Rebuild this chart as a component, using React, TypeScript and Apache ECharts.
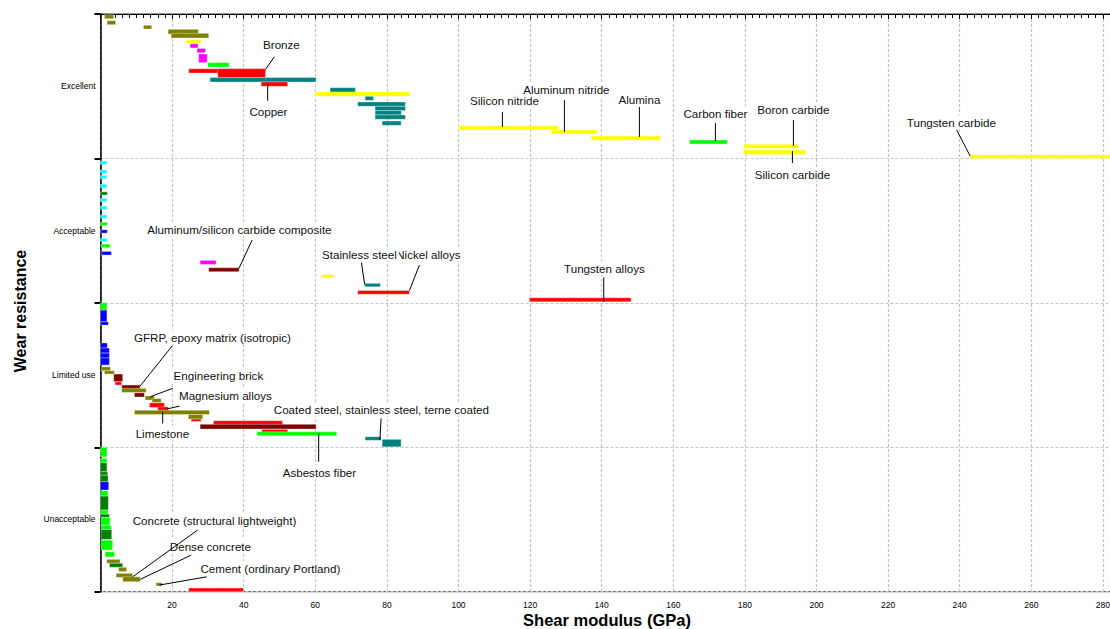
import React, { useEffect, useRef } from "react";
import * as echarts from "echarts";

const bands = ["Excellent", "Acceptable", "Limited use", "Unacceptable"];
const xTicksInterval = 20;

const familyColors: Record<string, string> = {
  natural: "#808000",
  ceramic: "#ffff00",
  composite: "#ff00ff",
  fiber: "#00ff00",
  metal: "#ff0000",
  steel: "#008080",
  elastomer: "#00ffff",
  foam: "#008000",
  polymer: "#0000ff",
  ferrous: "#800000",
};

// [family, G min, G max, position-in-band start, position-in-band end]
const excellentBars: [string, number, number, number, number][] = [
  ["natural", 1.09, 3.69, 0.005, 0.033],
  ["natural", 1.84, 4.25, 0.046, 0.074],
  ["natural", 11.98, 14.3, 0.078, 0.104],
  ["natural", 18.88, 27.35, 0.106, 0.139],
  ["natural", 19.72, 30.22, 0.134, 0.166],
  ["ceramic", 23.8, 28.18, 0.178, 0.203],
  ["composite", 25.03, 27.26, 0.206, 0.235],
  ["composite", 26.98, 29.3, 0.238, 0.268],
  ["composite", 27.43, 29.78, 0.277, 0.337],
  ["fiber", 29.94, 35.92, 0.337, 0.367],
  ["metal", 24.64, 46.06, 0.379, 0.409],
  ["metal", 32.74, 46.06, 0.379, 0.441],
  ["steel", 30.61, 60.22, 0.44, 0.471],
  ["metal", 44.86, 52.29, 0.471, 0.501],
  ["steel", 64.13, 71.2, 0.51, 0.542],
  ["ceramic", 59.94, 86.37, 0.54, 0.57],
  ["steel", 73.91, 76.23, 0.57, 0.598],
  ["steel", 71.84, 85.17, 0.609, 0.639],
  ["steel", 76.7, 85.17, 0.639, 0.669],
  ["steel", 76.7, 84.05, 0.669, 0.699],
  ["steel", 76.7, 85.17, 0.699, 0.729],
  ["steel", 78.66, 83.97, 0.741, 0.771],
  ["ceramic", 99.97, 127.9, 0.774, 0.803],
  ["ceramic", 125.95, 138.8, 0.803, 0.831],
  ["ceramic", 137.04, 156.4, 0.845, 0.875],
  ["fiber", 164.5, 175.11, 0.873, 0.9],
  ["ceramic", 179.58, 195.03, 0.902, 0.93],
  ["ceramic", 179.58, 197.09, 0.942, 0.972],
  ["ceramic", 242.9, 283.0, 0.975, 1.0],
];

const acceptableBars: [string, number, number, number, number][] = [
  ["elastomer", 0, 1.8, 0.018, 0.041],
  ["elastomer", 0, 1.8, 0.08, 0.103],
  ["elastomer", 0, 1.8, 0.117, 0.14],
  ["elastomer", 0, 1.8, 0.179, 0.203],
  ["foam", 0, 1.9, 0.231, 0.254],
  ["elastomer", 0, 1.8, 0.276, 0.299],
  ["elastomer", 0, 1.8, 0.33, 0.352],
  ["elastomer", 0, 1.8, 0.392, 0.415],
  ["fiber", 0, 1.9, 0.442, 0.465],
  ["polymer", 0, 1.9, 0.494, 0.517],
  ["elastomer", 0, 1.8, 0.553, 0.577],
  ["fiber", 0.17, 2.68, 0.593, 0.618],
  ["polymer", 0.17, 3.04, 0.644, 0.669],
  ["composite", 27.82, 32.29, 0.706, 0.734],
  ["ferrous", 30.22, 38.72, 0.757, 0.784],
  ["ceramic", 61.7, 65.25, 0.805, 0.828],
  ["steel", 73.8, 78.18, 0.865, 0.889],
  ["metal", 71.84, 86.28, 0.914, 0.941],
  ["metal", 119.8, 148.21, 0.965, 0.993],
];

const limitedBars: [string, number, number, number, number][] = [
  ["fiber", 0, 1.8, 0.0, 0.05],
  ["polymer", 0, 1.8, 0.05, 0.131],
  ["polymer", 0, 2.2, 0.131, 0.154],
  ["polymer", 0, 1.9, 0.278, 0.313],
  ["polymer", 0, 2.49, 0.313, 0.348],
  ["polymer", 0, 2.49, 0.348, 0.382],
  ["polymer", 0, 2.49, 0.382, 0.431],
  ["natural", 0.25, 2.77, 0.443, 0.47],
  ["natural", 1.09, 3.88, 0.47, 0.493],
  ["ferrous", 3.69, 6.2, 0.493, 0.546],
  ["metal", 4.08, 5.92, 0.546, 0.569],
  ["ferrous", 5.92, 11.06, 0.569, 0.597],
  ["natural", 5.92, 12.74, 0.592, 0.62],
  ["ferrous", 9.47, 12.26, 0.623, 0.652],
  ["natural", 12.46, 15.06, 0.645, 0.673],
  ["natural", 14.41, 16.93, 0.663, 0.689],
  ["metal", 13.66, 17.85, 0.692, 0.724],
  ["metal", 15.98, 18.97, 0.72, 0.748],
  ["natural", 9.47, 30.42, 0.743, 0.773],
  ["natural", 24.55, 28.55, 0.773, 0.805],
  ["metal", 25.31, 28.1, 0.805, 0.821],
  ["metal", 31.54, 50.89, 0.816, 0.846],
  ["ferrous", 27.82, 60.22, 0.841, 0.874],
  ["metal", 45.03, 52.29, 0.876, 0.903],
  ["fiber", 43.69, 65.98, 0.893, 0.92],
  ["steel", 73.91, 78.38, 0.927, 0.952],
  ["steel", 78.66, 83.97, 0.945, 0.997],
];

const unacceptableBars: [string, number, number, number, number][] = [
  ["fiber", 0, 1.8, 0.0, 0.066],
  ["fiber", 0, 1.8, 0.077, 0.107],
  ["foam", 0, 1.8, 0.107, 0.17],
  ["foam", 0, 2.0, 0.17, 0.193],
  ["foam", 0, 2.1, 0.193, 0.239],
  ["polymer", 0, 2.29, 0.239, 0.296],
  ["fiber", 0, 2.1, 0.301, 0.338],
  ["foam", 0, 2.21, 0.338, 0.435],
  ["fiber", 0, 2.1, 0.435, 0.463],
  ["foam", 0, 2.49, 0.463, 0.486],
  ["fiber", 0.17, 2.68, 0.486, 0.54],
  ["fiber", 0.17, 2.96, 0.54, 0.569],
  ["foam", 0.17, 3.13, 0.569, 0.638],
  ["fiber", 0.17, 3.41, 0.643, 0.712],
  ["fiber", 1.28, 3.88, 0.724, 0.759],
  ["natural", 1.73, 5.47, 0.776, 0.803],
  ["foam", 2.49, 6.2, 0.803, 0.831],
  ["natural", 5.08, 7.32, 0.831, 0.861],
  ["natural", 4.36, 8.99, 0.873, 0.901],
  ["natural", 6.2, 11.06, 0.897, 0.931],
  ["natural", 15.53, 17.21, 0.938, 0.961],
  ["metal", 24.64, 39.92, 0.975, 1.0],
];

// [label, anchor G, anchor band pos, leader end G, leader end band pos, text G, text band pos]
const annotations: [string, number, number, number, number, number, number][] = [
  ["Bronze", 46.06, 0.384, 48.58, 0.296, 50.53, 0.208],
  ["Copper", 46.7, 0.476, 46.7, 0.6, 46.9, 0.672],
  ["Silicon nitride", 112.26, 0.783, 112.26, 0.679, 112.82, 0.602],
  ["Aluminum nitride", 129.58, 0.817, 129.58, 0.596, 130.14, 0.526],
  ["Alumina", 150.53, 0.852, 150.53, 0.644, 150.53, 0.589],
  ["Carbon fiber", 171.76, 0.88, 171.76, 0.755, 171.76, 0.686],
  ["Boron carbide", 193.55, 0.914, 193.55, 0.734, 193.55, 0.658],
  ["Silicon carbide", 193.27, 0.949, 193.27, 1.032, 193.27, 1.108],
  ["Tungsten carbide", 242.91, 0.983, 239.16, 0.803, 237.68, 0.748],
  ["Aluminum/silicon carbide composite", 38.72, 1.759, 42.35, 1.565, 38.8, 1.489],
  ["Nickel alloys", 86.28, 1.916, 89.08, 1.738, 91.6, 1.662],
  ["Stainless steel", 73.8, 1.873, 72.88, 1.722, 72.33, 1.662],
  ["Tungsten alloys", 140.57, 1.992, 140.57, 1.823, 140.76, 1.759],
  ["GFRP, epoxy matrix (isotropic)", 11.06, 2.576, 20.0, 2.299, 31.26, 2.237],
  ["Engineering brick", 13.94, 2.65, 20.17, 2.592, 32.93, 2.5],
  ["Magnesium alloys", 18.49, 2.735, 22.04, 2.715, 34.89, 2.639],
  ["Limestone", 17.37, 2.754, 17.37, 2.835, 17.29, 2.902],
  ["Coated steel, stainless steel, terne coated", 78.04, 2.95, 78.38, 2.8, 78.46, 2.735],
  ["Asbestos fiber", 60.95, 2.904, 60.95, 3.1, 61.15, 3.172],
  ["Dense concrete", 11.06, 3.915, 25.31, 3.747, 30.7, 3.684],
  ["Concrete (structural lightweight)", 8.99, 3.897, 27.15, 3.573, 31.84, 3.504],
  ["Cement (ordinary Portland)", 16.45, 3.954, 29.66, 3.897, 47.46, 3.837],
];

const LABEL_FONT = '11.6px "Liberation Sans", Arial, sans-serif';
const AXIS_FONT = '"Liberation Sans", Arial, sans-serif';

export default function App() {
  const ref = useRef<HTMLDivElement>(null);

  useEffect(() => {
    if (!ref.current) return;
    const chart = echarts.init(ref.current, undefined, { renderer: "svg" });

    const bandSets = [excellentBars, acceptableBars, limitedBars, unacceptableBars];
    const rects: { v: number[]; color: string }[] = [];
    bandSets.forEach((set, bi) => {
      set.forEach((b) => {
        rects.push({ v: [b[1], b[2], bi + b[3], bi + b[4]], color: familyColors[b[0]] });
      });
    });

    const option: any = {
      animation: false,
      backgroundColor: "#fff",
      grid: {
        left: 100.5,
        top: 14,
        width: 285 * 3.58,
        height: 577.7,
        outerBoundsMode: "none",
        containLabel: false,
        show: true,
        borderColor: "#333",
        borderWidth: 1,
        backgroundColor: "transparent",
      },
      graphic: [
        {
          type: "text",
          x: 20,
          y: 311,
          rotation: Math.PI / 2,
          style: {
            text: "Wear resistance",
            font: 'bold 16px "Liberation Sans", Arial, sans-serif',
            fill: "#000",
            align: "center",
            verticalAlign: "middle",
          },
        },
        {
          type: "text",
          x: 607,
          y: 620,
          style: {
            text: "Shear modulus (GPa)",
            font: 'bold 16.5px "Liberation Sans", Arial, sans-serif',
            fill: "#000",
            align: "center",
            verticalAlign: "middle",
          },
        },
      ],
      xAxis: {
        type: "value",
        min: 0,
        max: 285,
        interval: xTicksInterval,
        axisLine: { lineStyle: { color: "#000", width: 1 } },
        axisTick: { show: true, length: 5, lineStyle: { color: "#000" } },
        minorTick: { show: true, splitNumber: 10, length: 4, lineStyle: { color: "#000" } },
        axisLabel: { showMinLabel: false, fontSize: 8.5, color: "#000", margin: 9, fontFamily: AXIS_FONT },
        splitLine: { show: true, lineStyle: { color: "#c4c4c4", type: [3, 2], width: 1.2 } },
      },
      yAxis: [
        {
          type: "category",
          inverse: true,
          data: bands,
          boundaryGap: true,
          position: "left",
          axisLine: { lineStyle: { color: "#000", width: 1.5 } },
          axisTick: { show: true, length: 6, lineStyle: { color: "#000", width: 2 } },
          axisLabel: { fontSize: 8.5, color: "#000", margin: 5, fontFamily: AXIS_FONT },
          splitLine: { show: true, lineStyle: { color: "#c4c4c4", type: [3, 2], width: 1.2 } },
        },
        { type: "value", min: 0, max: 4, inverse: true, show: false },
      ],
      series: [
        {
          type: "custom",
          yAxisIndex: 1,
          data: rects.map((r) => r.v),
          encode: { x: [0, 1], y: [2, 3] },
          renderItem: (params: any, api: any) => {
            const p1 = api.coord([api.value(0), api.value(2)]);
            const p2 = api.coord([api.value(1), api.value(3)]);
            return {
              type: "rect",
              shape: { x: p1[0], y: p1[1], width: p2[0] - p1[0], height: p2[1] - p1[1] },
              style: { fill: rects[params.dataIndex].color, stroke: "rgba(255,255,255,0.7)", lineWidth: 0.5 },
            };
          },
        },
        {
          type: "custom",
          yAxisIndex: 1,
          data: annotations.map((a) => [a[1], a[2], a[3], a[4], a[5], a[6]]),
          encode: { x: [0, 2, 4], y: [1, 3, 5] },
          renderItem: (params: any, api: any) => {
            const a = annotations[params.dataIndex];
            const p0 = api.coord([a[1], a[2]]);
            const p1 = api.coord([a[3], a[4]]);
            const pt = api.coord([a[5], a[6]]);
            return {
              type: "group",
              children: [
                {
                  type: "text",
                  x: pt[0],
                  y: pt[1],
                  style: {
                    text: a[0],
                    font: LABEL_FONT,
                    fill: "#111",
                    align: "center",
                    verticalAlign: "middle",
                    backgroundColor: "#fff",
                    padding: [1, 2],
                  },
                },
                {
                  type: "line",
                  shape: { x1: p0[0], y1: p0[1], x2: p1[0], y2: p1[1] },
                  style: { stroke: "#000", lineWidth: 1 },
                },
              ],
            };
          },
        },
      ],
    };

    chart.setOption(option);
    return () => chart.dispose();
  }, []);

  return (
    <div
      style={{
        position: "fixed",
        left: 0,
        top: 0,
        width: 1110,
        height: 629,
        overflow: "hidden",
        background: "#fff",
      }}
    >
      <div ref={ref} style={{ width: 1140, height: 629 }} />
    </div>
  );
}
